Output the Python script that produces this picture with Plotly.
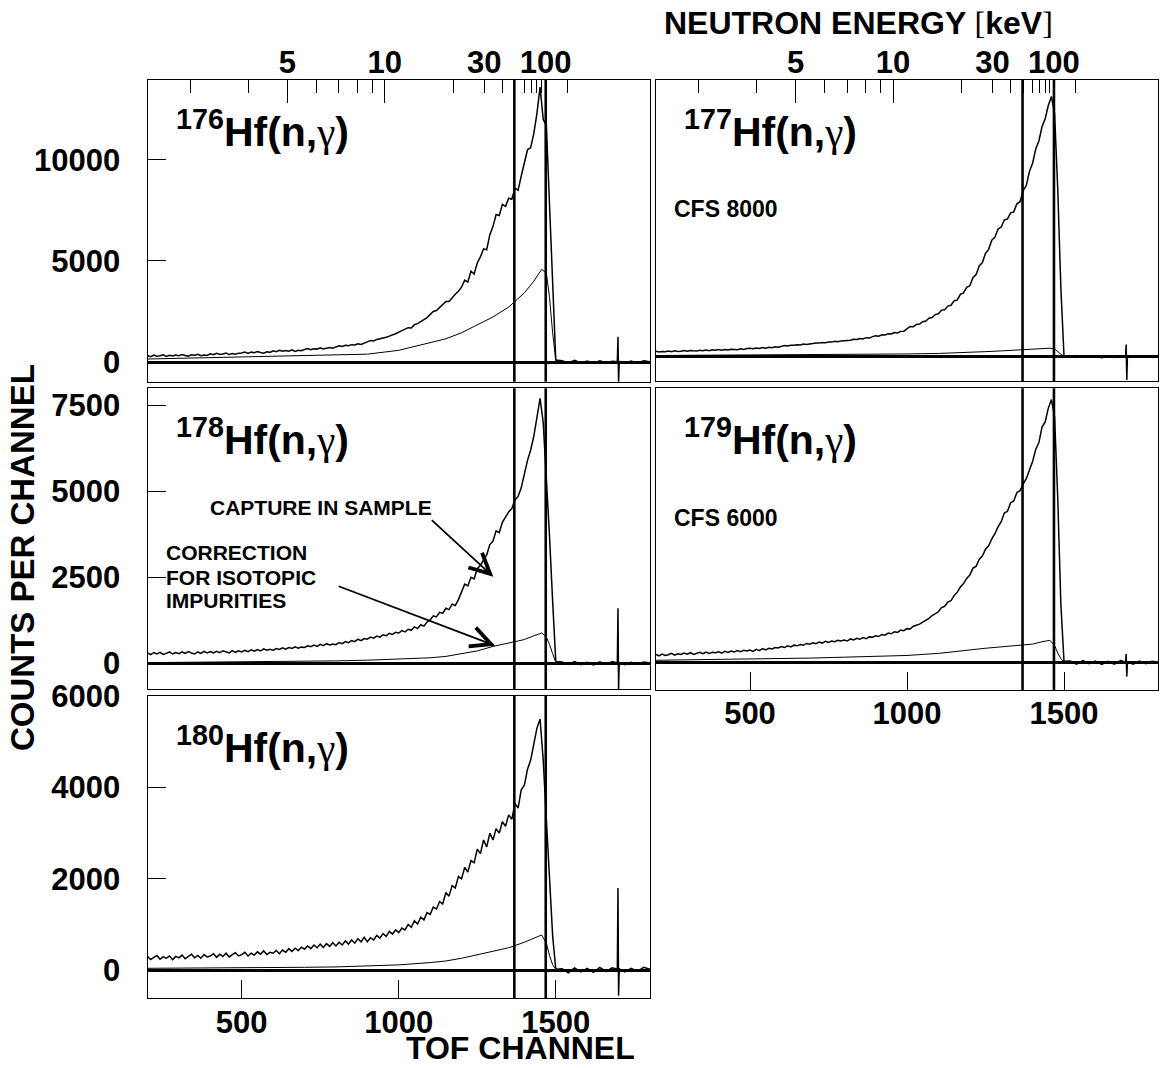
import math
import plotly.graph_objects as go

# ---------------- data ----------------
CH_UP = list(range(200, 1441, 10)) + [1450, 1460, 1470, 1480, 1490, 1500, 1520, 1540, 1560, 1580,
                                      1600, 1620, 1640, 1660, 1680, 1696, 1698, 1700, 1702, 1720,
                                      1740, 1760, 1780, 1800]
CH_LO = [200, 300, 400, 500, 600, 700, 800, 900, 1000, 1100, 1150, 1200, 1250, 1300, 1350,
         1400, 1430, 1455, 1470, 1480, 1490, 1500, 1510]

HF176_SAMPLE = [320, 270, 340, 290, 310, 360, 280, 330, 300, 350,
                310, 370, 320, 290, 360, 340, 380, 310, 350, 330,
                410, 360, 430, 380, 400, 450, 370, 420, 390, 440,
                450, 500, 430, 490, 460, 520, 470, 440, 510, 480,
                560, 510, 580, 530, 570, 540, 600, 520, 580, 560,
                620, 670, 610, 660, 640, 700, 650, 690, 720, 680,
                760, 800, 770, 830, 810, 860, 840, 900, 870, 950,
                1000, 1060, 1040, 1120, 1150, 1200, 1230, 1280, 1330, 1400,
                1480, 1560, 1600, 1700, 1680, 1850, 1900, 1980, 2100, 2200,
                2350, 2500, 2550, 2700, 2800, 3000, 3000, 3200, 3350, 3500,
                3700, 4050, 3950, 4500, 4350, 4900, 5200, 5600, 5550, 6300,
                6700, 7300, 7250, 7800, 7700, 8100, 8050, 8600, 8500, 9200,
                9800, 10500, 10600, 11300, 12300,
                13600, 12000, 11700, 7800, 3900, 100, 60, -50, 80, -40,
                50, -70, 60, -30, 40, 20, 1250, -1100, 30, -60,
                50, -40, 60, 10]
HF177_SAMPLE = [270, 230, 260, 240, 280, 250, 290, 260, 270, 300,
                270, 310, 290, 280, 320, 300, 330, 290, 340, 320,
                350, 320, 360, 330, 370, 350, 340, 390, 360, 400,
                420, 390, 430, 410, 450, 420, 470, 440, 490, 470,
                520, 550, 530, 570, 560, 590, 580, 620, 600, 640,
                650, 680, 670, 700, 690, 730, 720, 760, 740, 780,
                790, 830, 810, 860, 850, 900, 880, 940, 920, 990,
                1030, 1010, 1080, 1070, 1130, 1120, 1190, 1170, 1250, 1260,
                1400, 1490, 1480, 1590, 1610, 1730, 1760, 1900, 1930, 2080,
                2120, 2300, 2320, 2500, 2540, 2760, 2800, 3080, 3150, 3420,
                3500, 3900, 4050, 4480, 4650, 5100, 5300, 5750, 5900, 6300,
                6400, 6750, 6800, 7100, 7150, 7550, 7650, 8200, 8450, 9150,
                9550, 10250, 10650, 11350, 11750,
                12400, 12850, 12000, 8300, 3400, 50, 30, -40, 50, -30,
                40, -50, 30, -40, 50, 10, 600, -1150, 20, -30,
                40, -20, 30, 10]
HF178_SAMPLE = [300, 250, 310, 270, 320, 260, 290, 330, 270, 310,
                280, 330, 290, 340, 300, 270, 330, 290, 350, 300,
                340, 300, 350, 310, 360, 330, 300, 370, 320, 360,
                330, 380, 340, 390, 350, 400, 360, 420, 380, 410,
                380, 430, 400, 450, 410, 460, 430, 480, 440, 470,
                460, 510, 480, 530, 490, 550, 510, 570, 530, 560,
                540, 600, 570, 630, 600, 660, 630, 700, 660, 720,
                700, 760, 730, 790, 760, 830, 800, 870, 840, 900,
                880, 950, 910, 990, 960, 1060, 1010, 1120, 1080, 1200,
                1260, 1380, 1350, 1480, 1450, 1600, 1560, 1720, 1680, 1850,
                2100, 2300, 2250, 2500, 2450, 2750, 2850, 3000, 3150, 3450,
                3550, 3850, 3800, 4100, 4250, 4400, 4500, 4750, 4850, 5100,
                5500, 5900, 6200, 6600, 7150,
                7700, 7000, 5500, 3700, 1800, 50, 40, -30, 50, -40,
                30, -50, 40, -30, 50, 10, 1600, -760, 20, -40,
                30, -30, 40, 10]
HF179_SAMPLE = [240, 200, 250, 210, 230, 270, 220, 260, 240, 280,
                250, 290, 240, 280, 300, 260, 310, 270, 300, 290,
                320, 280, 330, 300, 340, 310, 350, 320, 360, 340,
                370, 330, 390, 350, 410, 370, 420, 400, 440, 430,
                470, 440, 490, 460, 510, 490, 530, 510, 560, 540,
                580, 550, 600, 570, 620, 590, 630, 610, 650, 630,
                660, 630, 690, 660, 710, 680, 730, 700, 750, 740,
                780, 760, 820, 800, 860, 840, 900, 880, 950, 930,
                990, 980, 1060, 1090, 1120, 1180, 1230, 1290, 1370, 1430,
                1480, 1600, 1640, 1760, 1800, 1950, 2050, 2200, 2300, 2450,
                2550, 2750, 2800, 3000, 3100, 3300, 3400, 3600, 3750, 3950,
                4100, 4350, 4400, 4650, 4700, 4950, 5000, 5200, 5350, 5600,
                5850, 6200, 6400, 6850, 7000,
                7400, 7650, 7150, 4800, 1700, 40, 50, -40, 60, -30,
                50, -50, 40, -40, 60, 20, 250, -400, 30, -40,
                50, -30, 40, 20]
HF180_SAMPLE = [300, 230, 280, 320, 240, 290, 260, 310, 230, 300,
                270, 330, 250, 310, 350, 270, 320, 260, 340, 290,
                310, 360, 280, 350, 300, 370, 290, 340, 380, 310,
                340, 390, 310, 370, 330, 400, 350, 420, 340, 390,
                370, 430, 360, 440, 390, 470, 410, 480, 430, 500,
                460, 530, 470, 550, 490, 570, 500, 580, 520, 600,
                530, 610, 550, 640, 570, 660, 590, 690, 620, 720,
                620, 710, 660, 760, 700, 800, 740, 850, 790, 880,
                820, 920, 880, 1000, 940, 1080, 1010, 1160, 1100, 1260,
                1220, 1380, 1340, 1500, 1450, 1700, 1620, 1850, 1800, 2050,
                2000, 2250, 2150, 2400, 2350, 2650, 2550, 2850, 2700, 3000,
                2850, 3100, 3000, 3250, 3150, 3400, 3300, 3650, 3550, 3950,
                4050, 4400, 4600, 4950, 5300,
                5500, 4600, 3300, 2100, 750, 20, 30, -60, 50, -40,
                40, -50, 60, -30, 50, 20, 1800, -560, 30, -40,
                40, -30, 60, 20]

HF176_CORR = [150, 180, 210, 250, 290, 330, 360, 390, 580, 950, 1150, 1450, 1830, 2230, 2720,
              3420, 4000, 4580, 4400, 3200, 1450, 100, 0]
HF177_CORR = [60, 65, 70, 75, 80, 90, 100, 115, 135, 160, 180, 210, 250, 285, 320,
              360, 390, 420, 390, 250, 120, 20, 0]
HF178_CORR = [20, 25, 30, 35, 45, 55, 70, 90, 120, 160, 200, 270, 360, 490, 580,
              690, 800, 880, 760, 550, 280, 30, 0]
HF179_CORR = [70, 80, 90, 100, 115, 135, 160, 190, 210, 270, 310, 370, 420, 460, 495,
              540, 610, 650, 500, 280, 120, 20, 0]
HF180_CORR = [40, 42, 45, 48, 55, 62, 70, 90, 115, 165, 200, 260, 340, 420, 490,
              610, 700, 770, 590, 320, 120, 20, 0]

MARKER_CHANNELS = [1368, 1468]
TOF_TICKS = [500, 1000, 1500]
Y_TICKS_176 = [0, 5000, 10000]
Y_TICKS_178 = [0, 2500, 5000, 7500]
Y_TICKS_180 = [0, 2000, 4000, 6000]

ENERGY_LABELED_KEV = [5, 10, 30, 100]
ENERGY_LONG_KEV = [5, 10]
ENERGY_SHORT_KEV = [3, 4, 6, 7, 8, 9, 20, 30, 40, 50, 60, 70, 80, 90, 100, 200]
FLASH_CHANNEL = 1705.0
TOF_CONST = 2370.0


def energy_to_channel(e_kev):
    return FLASH_CHANNEL - TOF_CONST / math.sqrt(e_kev)


# ---------------- layout ----------------
W, H = 1161, 1068
FONT = "Liberation Sans, Arial, Helvetica, sans-serif"
TICKFONT = dict(family=FONT, size=31, color="black", weight="bold")
XL = [147.5 / W, 650.0 / W]
XR = [655.8 / W, 1158.2 / W]


def ydom(top, bottom):
    return [1 - bottom / H, 1 - top / H]


panels = [
    dict(iso="176", xd=XL, yd=ydom(80, 381.7), yr=[-972, 13949], s=HF176_SAMPLE, c=HF176_CORR,
         yt=Y_TICKS_176, bottom=False, cfs=None),
    dict(iso="177", xd=XR, yd=ydom(80, 381), yr=[-1200, 13660], s=HF177_SAMPLE, c=HF177_CORR,
         yt=None, bottom=False, cfs="CFS 8000"),
    dict(iso="178", xd=XL, yd=ydom(388.3, 689.3), yr=[-756, 7994], s=HF178_SAMPLE, c=HF178_CORR,
         yt=Y_TICKS_178, bottom=False, cfs=None),
    dict(iso="179", xd=XR, yd=ydom(388.3, 690), yr=[-794, 7977], s=HF179_SAMPLE, c=HF179_CORR,
         yt=None, bottom=True, cfs="CFS 6000"),
    dict(iso="180", xd=XL, yd=ydom(695.7, 998.3), yr=[-617, 6010], s=HF180_SAMPLE, c=HF180_CORR,
         yt=Y_TICKS_180, bottom=True, cfs=None),
]

fig = go.Figure()
layout = {}
shapes = []
annotations = []

for i, p in enumerate(panels, 1):
    sx = "" if i == 1 else str(i)
    xref, yref = "x" + sx, "y" + sx
    fig.add_trace(go.Scatter(x=CH_UP, y=p["s"], mode="lines", xaxis=xref, yaxis=yref,
                             line=dict(color="black", width=1.5), showlegend=False, hoverinfo="skip"))
    fig.add_trace(go.Scatter(x=CH_LO, y=p["c"], mode="lines", xaxis=xref, yaxis=yref,
                             line=dict(color="black", width=1.0), showlegend=False, hoverinfo="skip"))
    xa = dict(domain=p["xd"], range=[200, 1800], anchor=yref, showline=True, mirror=True,
              linecolor="black", linewidth=1, showgrid=False, zeroline=False, automargin=False)
    if p["bottom"]:
        xa.update(ticks="inside", tickmode="array", tickvals=TOF_TICKS,
                  ticktext=[str(v) for v in TOF_TICKS], ticklen=18, tickwidth=1.3,
                  tickcolor="black", tickfont=TICKFONT, ticklabelstandoff=-4)
    else:
        xa.update(ticks="", showticklabels=False)
    ya = dict(domain=p["yd"], range=p["yr"], anchor=xref, showline=True, mirror=True,
              linecolor="black", linewidth=1, showgrid=False, zeroline=True,
              zerolinecolor="black", zerolinewidth=2.5, automargin=False)
    if p["yt"]:
        ya.update(ticks="inside", tickmode="array", tickvals=p["yt"],
                  ticktext=[str(v) for v in p["yt"]], ticklen=18, tickwidth=1.3,
                  tickcolor="black", tickfont=TICKFONT, ticklabelstandoff=20)
    else:
        ya.update(ticks="", showticklabels=False)
    layout["xaxis" + sx] = xa
    layout["yaxis" + sx] = ya

    for ch in MARKER_CHANNELS:
        shapes.append(dict(type="line", xref=xref, yref=yref + " domain", x0=ch, x1=ch, y0=0, y1=1,
                           line=dict(color="black", width=2.6), layer="above"))

    annotations.append(dict(
        xref=xref + " domain", yref=yref + " domain", x=0.052, y=0.93, xanchor="left", yanchor="top",
        text=("<sup>%s</sup>Hf(n,<span style='font-family:Liberation Serif;font-weight:normal'>γ</span>)"
              % p["iso"]),
        showarrow=False, font=dict(family=FONT, size=41, color="black", weight="bold")))
    if p["cfs"]:
        annotations.append(dict(
            xref=xref + " domain", yref=yref + " domain", x=0.033, y=0.57, xanchor="left",
            yanchor="middle", text=p["cfs"], showarrow=False,
            font=dict(family=FONT, size=23, color="black", weight="bold")))

# energy (top) axes on the two upper panels
energy_axes = [
    (ENERGY_LABELED_KEV, 13, True),
    (ENERGY_LONG_KEV, 23, False),
    (ENERGY_SHORT_KEV, 13, False),
]
n = 6
for base, yb in [("x", "y"), ("x2", "y2")]:
    for vals, tlen, labeled in energy_axes:
        ax = dict(overlaying=base, side="top", anchor=yb, range=[200, 1800], tickmode="array",
                  tickvals=[energy_to_channel(e) for e in vals], ticks="inside", ticklen=tlen,
                  tickwidth=1.3, tickcolor="black", showline=False, showgrid=False, zeroline=False,
                  automargin=False)
        if labeled:
            ax.update(ticktext=[str(e) for e in vals], tickfont=TICKFONT, ticklabelstandoff=0)
        else:
            ax.update(showticklabels=False)
        layout["xaxis%d" % n] = ax
        fig.add_trace(go.Scatter(x=[None], y=[None], xaxis="x%d" % n, yaxis=yb, mode="lines",
                                 showlegend=False, hoverinfo="skip"))
        n += 1

# arrows and labels in the 178 panel
LBL = dict(family=FONT, size=21, color="black", weight="bold")
annotations += [
    dict(xref="x3 domain", yref="y3 domain", x=0.121, y=0.603, xanchor="left", yanchor="middle",
         text="CAPTURE IN SAMPLE", showarrow=False, font=LBL),
    dict(xref="x3 domain", yref="y3 domain", x=0.033, y=0.4545, xanchor="left", yanchor="middle",
         text="CORRECTION", showarrow=False, font=LBL),
    dict(xref="x3 domain", yref="y3 domain", x=0.033, y=0.371, xanchor="left", yanchor="middle",
         text="FOR ISOTOPIC", showarrow=False, font=LBL),
    dict(xref="x3 domain", yref="y3 domain", x=0.033, y=0.295, xanchor="left", yanchor="middle",
         text="IMPURITIES", showarrow=False, font=LBL),
    dict(xref="x3", yref="y3", x=1301, y=2517, ax=-63, ay=-58, text="", showarrow=True,
         arrowhead=5, arrowsize=2.2, arrowwidth=1.8, arrowcolor="black", standoff=0),
    dict(xref="x3", yref="y3", x=1307, y=512, ax=-158, ay=-60, text="", showarrow=True,
         arrowhead=5, arrowsize=2.2, arrowwidth=1.8, arrowcolor="black", standoff=0),
]

# axis titles
TITLEFONT = dict(family=FONT, size=33, color="black", weight="bold")
annotations += [
    dict(xref="paper", yref="paper", x=22.5 / W, y=1 - 557.5 / H, text="COUNTS PER CHANNEL",
         textangle=-90, showarrow=False, font=TITLEFONT, xanchor="center", yanchor="middle"),
    dict(xref="paper", yref="paper", x=520 / W, y=0, text="TOF CHANNEL",
         showarrow=False, font=dict(family=FONT, size=32, color="black", weight="bold"),
         xanchor="center", yanchor="bottom"),
    dict(xref="paper", yref="paper", x=858 / W, y=1 - 23 / H,
         text=("NEUTRON ENERGY <span style='font-family:Liberation Serif;font-weight:normal'>[</span>"
               "keV<span style='font-family:Liberation Serif;font-weight:normal'>]</span>"),
         showarrow=False, font=dict(family=FONT, size=32, color="black", weight="bold"),
         xanchor="center", yanchor="middle"),
]

fig.update_layout(width=W, height=H, margin=dict(l=0, r=0, t=0, b=0, autoexpand=False),
                  paper_bgcolor="white", plot_bgcolor="white", showlegend=False, shapes=shapes,
                  annotations=annotations, **layout)
fig.write_html("out.html")
